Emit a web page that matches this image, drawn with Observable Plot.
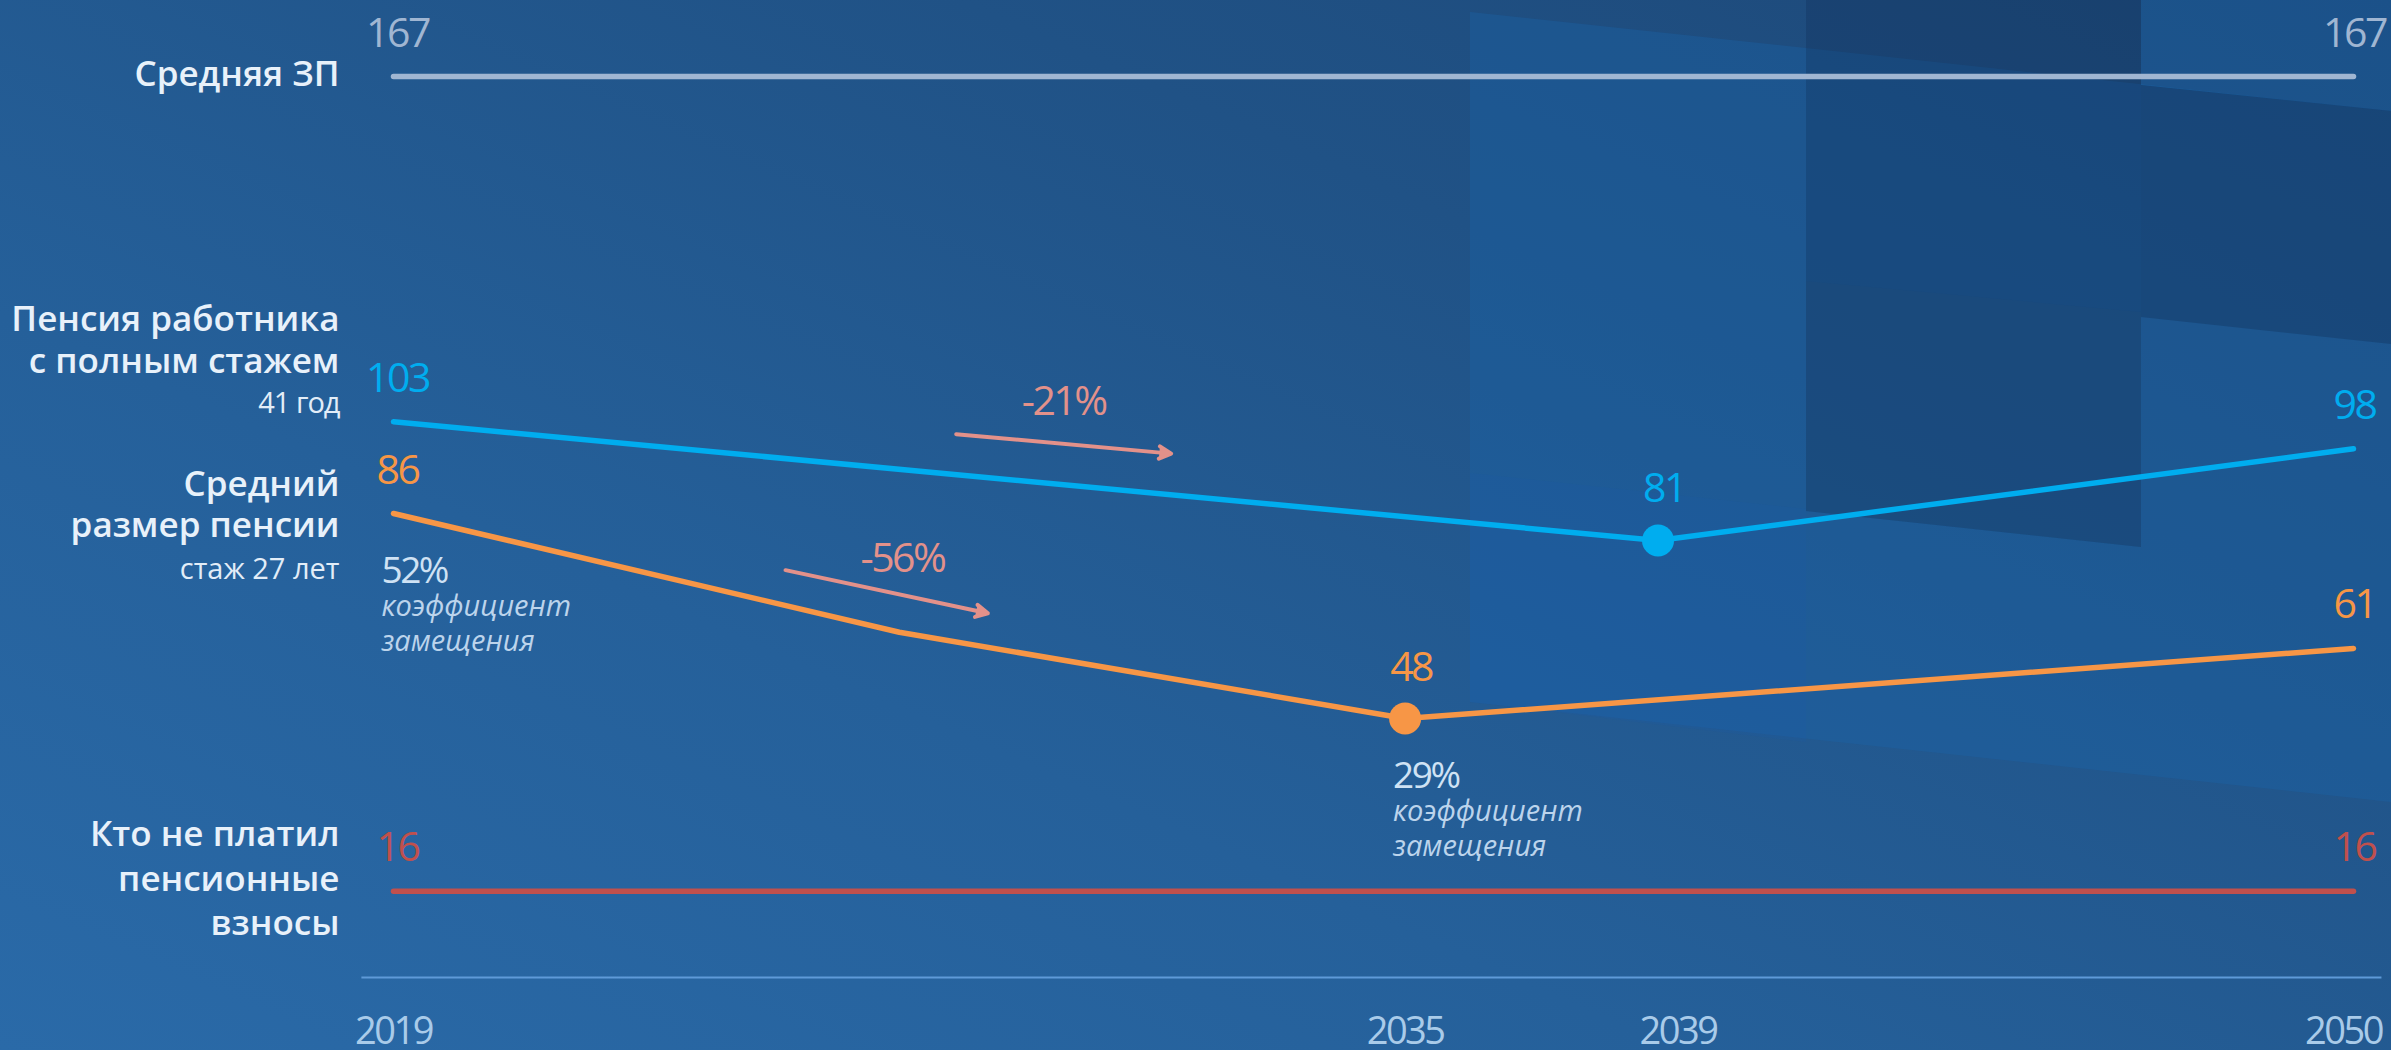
<!DOCTYPE html>
<html><head><meta charset="utf-8">
<script src="https://cdn.jsdelivr.net/npm/d3@7"></script>
<script src="https://cdn.jsdelivr.net/npm/@observablehq/plot@0.6"></script>
<style>
html,body{margin:0;padding:0;width:2391px;height:1050px;overflow:hidden;background:#22568a;}
#wrap{position:relative;width:2391px;height:1050px;background:linear-gradient(to top right,#2a6aa8 0%,#25609a 35%,#205286 70%,#1d4878 100%);}
#bg{position:absolute;left:0;top:0;}
#chart{position:absolute;left:0;top:0;}
</style></head><body>
<div id="wrap">
<svg id="bg" width="2391" height="1050">
  <polygon points="1470,12 2391,111 2391,802 1470,702" fill="#1a66ad" fill-opacity="0.32"/>
  <polygon points="1470,473 1806,509 1806,742 1470,702" fill="#1a5cb5" fill-opacity="0.12"/>
  <polygon points="2141,0 2391,0 2391,111 2141,85" fill="#1a66ad" fill-opacity="0.32"/>
  <polygon points="1806,0 2141,0 2141,547 1806,511" fill="#0f2a52" fill-opacity="0.28"/>
  <polygon points="1806,281 2141,312 2141,547 1806,511" fill="#2a4a6a" fill-opacity="0.12"/>
  <polygon points="2141,85 2391,111 2391,344 2141,317" fill="#0f2a52" fill-opacity="0.32"/>
</svg>
<div id="chart"></div>
</div>
<script>
// ---- data ----
const wageYears = [2019, 2050];
const wageValues = [167, 167];
const fullYears = [2019, 2039, 2050];
const fullValues = [103, 81, 98];
const avgYears = [2019, 2027, 2035, 2050];
const avgValues = [86, 64, 48, 61];
const unpaidYears = [2019, 2050];
const unpaidValues = [16, 16];
const tickYears = [2019, 2035, 2039, 2050];
const axisSpan = [2018.5, 2050.45];

const rateYears = [2019, 2035];
const rateValues = [86, 48];
const rateLabels = ["52%", "29%"];
const rateCaption = "коэффициент\nзамещения";

const changeLabels = ["-21%", "-56%"];
const changeLabelYears = [2029.6, 2027.05];
const changeLabelValues = [104.2, 75.1];
const arrowFromYears = [2027.9, 2025.2];
const arrowFromValues = [100.7, 75.5];
const arrowToYears = [2031.3, 2028.4];
const arrowToValues = [97.1, 67.5];

const seriesNames = ["Средняя ЗП", "Пенсия работника\nс полным стажем", "Средний\nразмер пенсии", "Кто не платил\nпенсионные\nвзносы"];
const seriesNotes = ["", "41 год", "стаж 27 лет", ""];

// ---- build ----
const rows = (xs, ys) => xs.map((x, i) => ({year: x, value: ys[i]}));
const wage = rows(wageYears, wageValues);
const full = rows(fullYears, fullValues);
const avg = rows(avgYears, avgValues);
const unpaid = rows(unpaidYears, unpaidValues);

const C = {wage: "#a0b6d2", full: "#00adef", avg: "#f79646", unpaid: "#c0504d", change: "#e3918a"};
const F = "'Open Sans', 'Noto Sans', sans-serif";

const labeled = (arr) => arr.filter(d => tickYears.includes(d.year));
const first = d => d.year === wageYears[0];
const last = d => d.year === wageYears[wageYears.length - 1];
const minOf = arr => arr.filter(d => d.value === d3.min(arr, e => e.value));

const changes = changeLabels.map((t, i) => ({t, x: changeLabelYears[i], y: changeLabelValues[i],
  x1: arrowFromYears[i], y1: arrowFromValues[i], x2: arrowToYears[i], y2: arrowToValues[i]}));
const rates = rateYears.map((y, i) => ({year: y, value: rateValues[i], t: rateLabels[i]}));

const lineOpts = (stroke) => ({x: "year", y: "value", stroke, strokeWidth: 5.5, strokeLinecap: "round", strokeLinejoin: "round"});
const numText = (data, fill, dx, dy) => Plot.text(data, {x: "year", y: "value", text: d => String(d.value), fill, fontSize: 41, fontFamily: F, dx, dy, lineAnchor: "bottom", textAnchor: "middle"});
const valueText = (arr, fill) => [
  numText(labeled(arr).filter(first), fill, 4, -30),
  numText(labeled(arr).filter(last), fill, 1, -30),
  numText(labeled(arr).filter(d => !first(d) && !last(d)), fill, 6, -38)
];
const leftLabel = (d0, name, dy, lh) => Plot.text([d0], {x: "year", y: "value", text: () => name, textAnchor: "end", lineAnchor: "bottom", dx: -54, dy, fill: "#e8f1fa", fontSize: 35, fontWeight: 600, fontFamily: F, lineHeight: lh});
const leftNote = (d0, note, dy) => Plot.text([d0], {x: "year", y: "value", text: () => note, textAnchor: "end", lineAnchor: "bottom", dx: -54, dy, fill: "#e2edf8", fontSize: 29, fontFamily: F});
const tickText = (ys, dx) => Plot.text(ys, {x: d => d, y: 0, text: d => String(d), dx, dy: 66, lineAnchor: "bottom", fill: "#a9cbe9", fontSize: 38, fontFamily: F});

const chart = Plot.plot({
  width: 2391, height: 1050, margin: 0,
  x: {domain: [2019, 2050], range: [393, 2353], axis: null},
  y: {domain: [0, 167], range: [977, 76], axis: null},
  style: {background: "transparent", fontFamily: F},
  marks: [
    Plot.ruleY([0], {x1: axisSpan[0], x2: axisSpan[1], stroke: "#5e9ad8", strokeWidth: 2}),
    tickText(tickYears.slice(0, 2), 0),
    tickText(tickYears.slice(2, 3), 20),
    tickText(tickYears.slice(3), -10),
    Plot.line(wage, lineOpts(C.wage)),
    Plot.line(full, lineOpts(C.full)),
    Plot.line(avg, lineOpts(C.avg)),
    Plot.line(unpaid, lineOpts(C.unpaid)),
    Plot.dot(minOf(full), {x: "year", y: "value", r: 16, fill: C.full}),
    Plot.dot(minOf(avg), {x: "year", y: "value", r: 16, fill: C.avg}),
    ...valueText(wage, C.wage),
    ...valueText(full, C.full),
    ...valueText(avg, C.avg),
    ...valueText(unpaid, C.unpaid),
    leftLabel(wage[0], seriesNames[0], 9, 1.2),
    leftLabel(full[0], seriesNames[1], -49, 1.2),
    leftNote(full[0], seriesNotes[1], -9),
    leftLabel(avg[0], seriesNames[2], 23, 1.16),
    leftNote(avg[0], seriesNotes[2], 65),
    leftLabel(unpaid[0], seriesNames[3], 44, 1.27),
    Plot.text(rates, {x: "year", y: "value", text: "t", textAnchor: "start", lineAnchor: "bottom", dx: -12, dy: 69, fill: "#cfe2f4", fontSize: 37, fontFamily: F}),
    Plot.text(rates, {x: "year", y: "value", text: () => rateCaption, textAnchor: "start", lineAnchor: "bottom", dx: -12, dy: 137, fill: "#bcd4ec", fontSize: 29, fontStyle: "italic", fontFamily: F, lineHeight: 1.2}),
    Plot.arrow(changes, {x1: "x1", y1: "y1", x2: "x2", y2: "y2", stroke: C.change, fill: C.change, strokeWidth: 4, headLength: 5, headAngle: 55}),
    Plot.text(changes, {x: "x", y: "y", text: "t", fill: C.change, fontSize: 41, fontFamily: F, lineAnchor: "bottom", textAnchor: "middle"})
  ]
});
// narrow the numerals like the reference's condensed digits
d3.select(chart).selectAll("text").each(function() {
  const t = this.textContent.trim();
  if (/^[-\d%]+$/.test(t)) d3.select(this).style("letter-spacing", "-2.5px");
  else if (/^\d/.test(t)) d3.select(this).style("letter-spacing", "-1px");
});
document.getElementById("chart").appendChild(chart);
</script>
</body></html>
